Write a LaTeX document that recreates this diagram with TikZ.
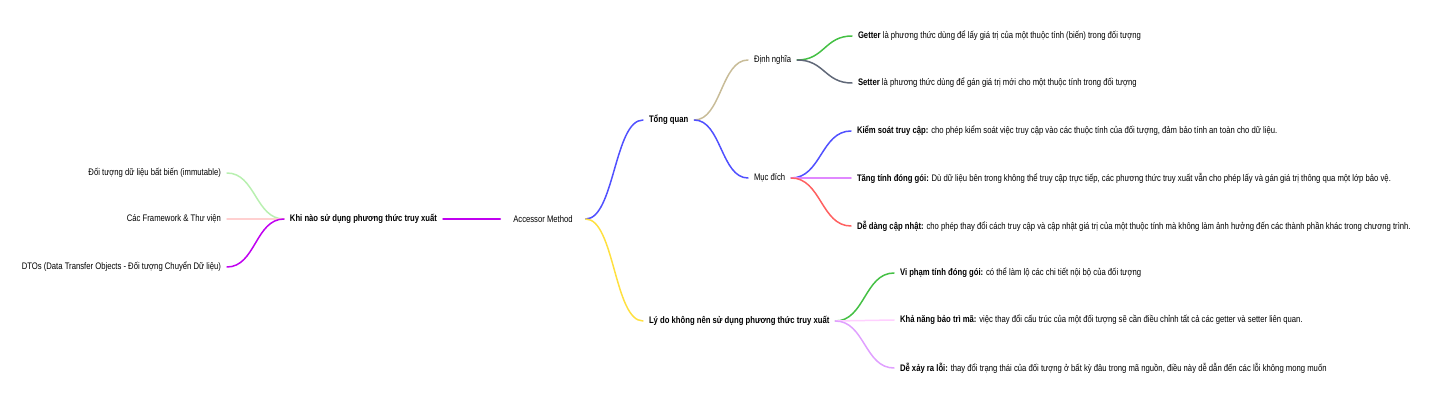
\documentclass[tikz,border=0pt]{standalone}
\usepackage{fontspec}
\setmainfont{Liberation Sans}[FakeStretch=0.81]
\usetikzlibrary{calc}
\definecolor{cMag}{HTML}{C000F0}
\definecolor{cLGreen}{HTML}{B8F0B0}
\definecolor{cLPink}{HTML}{FFD0D0}
\definecolor{cBlue}{HTML}{5050FF}
\definecolor{cKhaki}{HTML}{C8BC98}
\definecolor{cGreen}{HTML}{44C044}
\definecolor{cSlate}{HTML}{606878}
\definecolor{cViolet}{HTML}{E088FF}
\definecolor{cRed}{HTML}{FF6060}
\definecolor{cYellow}{HTML}{FFE040}
\definecolor{cPinkL}{HTML}{FFD0FF}
\definecolor{cLViolet}{HTML}{E0A0FF}
\tikzset{
  lbl/.style={font=\fontsize{9.5}{10}\selectfont, inner ysep=1pt, inner xsep=6pt, outer sep=0pt},
  rl/.style={lbl, anchor=west},
  ll/.style={lbl, anchor=east},
  conn/.style={line width=1.5pt, line cap=round,
    to path={let \p1=(\tikztostart), \p2=(\tikztotarget) in
      .. controls ({(\x1+\x2)/2},\y1) and ({(\x1+\x2)/2},\y2) .. (\tikztotarget)}},
}
\begin{document}
\begin{tikzpicture}[x=1pt,y=-1pt]
\useasboundingbox (0,0) rectangle (1430,404);
\node[lbl, inner xsep=13pt] (root) at (543,219) {Accessor Method};
\node[ll] (khi) at (443,219) {\textbf{Khi nào sử dụng phương thức truy xuất}};
\node[ll] (imm) at (227,173) {Đối tượng dữ liệu bất biến (immutable)};
\node[ll] (fw) at (227,219) {Các Framework \& Thư viện};
\node[ll] (dto) at (227,267) {DTOs (Data Transfer Objects - Đối tượng Chuyển Dữ liệu)};
\node[rl] (tong) at (643,120) {\textbf{Tổng quan}};
\node[rl] (dinh) at (748,60) {Định nghĩa};
\node[rl] (muc) at (748,178) {Mục đích};
\node[rl] (get) at (852,36) {\textbf{Getter} là phương thức dùng để lấy giá trị của một thuộc tính (biến) trong đối tượng};
\node[rl] (set) at (852,83) {\textbf{Setter} là phương thức dùng để gán giá trị mới cho một thuộc tính trong đối tượng};
\node[rl] (kiem) at (851,131) {\textbf{Kiểm soát truy cập:} cho phép kiểm soát việc truy cập vào các thuộc tính của đối tượng, đảm bảo tính an toàn cho dữ liệu.};
\node[rl] (tang) at (851,178) {\textbf{Tăng tính đóng gói:} Dù dữ liệu bên trong không thể truy cập trực tiếp, các phương thức truy xuất vẫn cho phép lấy và gán giá trị thông qua một lớp bảo vệ.};
\node[rl] (de) at (851,226) {\textbf{Dễ dàng cập nhật:} cho phép thay đổi cách truy cập và cập nhật giá trị của một thuộc tính mà không làm ảnh hưởng đến các thành phần khác trong chương trình.};
\node[rl] (lydo) at (643,321) {\textbf{Lý do không nên sử dụng phương thức truy xuất}};
\node[rl] (vi) at (894,273) {\textbf{Vi phạm tính đóng gói:} có thể làm lộ các chi tiết nội bộ của đối tượng};
\node[rl] (kha) at (894,320) {\textbf{Khả năng bảo trì mã:} việc thay đổi cấu trúc của một đối tượng sẽ cần điều chỉnh tất cả các getter và setter liên quan.};
\node[rl] (dex) at (894,368) {\textbf{Dễ xảy ra lỗi:} thay đổi trạng thái của đối tượng ở bất kỳ đâu trong mã nguồn, điều này dễ dẫn đến các lỗi không mong muốn};

\draw[conn, cMag] (root.west) to (khi.east);
\draw[conn, cLGreen] (khi.west) to (imm.east);
\draw[conn, cLPink] (khi.west) to (fw.east);
\draw[conn, cMag] (khi.west) to (dto.east);
\draw[conn, cBlue] (root.east) to (tong.west);
\draw[conn, cYellow] (root.east) to (lydo.west);
\draw[conn, cKhaki] (tong.east) to (dinh.west);
\draw[conn, cBlue] (tong.east) to (muc.west);
\draw[conn, cGreen] (dinh.east) to (get.west);
\draw[conn, cSlate] (dinh.east) to (set.west);
\draw[conn, cBlue] (muc.east) to (kiem.west);
\draw[conn, cViolet] (muc.east) to (tang.west);
\draw[conn, cRed] (muc.east) to (de.west);
\draw[conn, cGreen] (lydo.east) to (vi.west);
\draw[conn, cPinkL] (lydo.east) to (kha.west);
\draw[conn, cLViolet] (lydo.east) to (dex.west);
\end{tikzpicture}
\end{document}
